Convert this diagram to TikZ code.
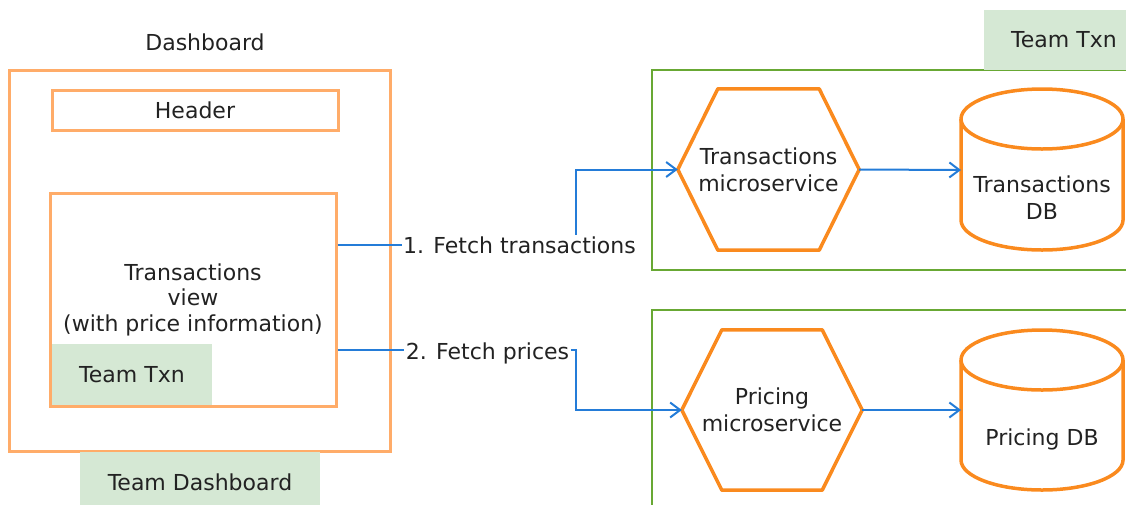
\documentclass[tikz,border=0pt]{standalone}
\usepackage{fontspec}
\setmainfont{DejaVu Sans}
\usetikzlibrary{arrows.meta}
\definecolor{lorange}{RGB}{255,172,105}
\definecolor{sorange}{RGB}{250,138,30}
\definecolor{cgreen}{RGB}{104,168,52}
\definecolor{gfill}{RGB}{213,232,212}
\definecolor{cblue}{RGB}{36,124,216}
\definecolor{ink}{RGB}{34,34,34}
\begin{document}
\begin{tikzpicture}[x=1pt,y=1pt,
  every node/.style={font=\fontsize{22}{27}\selectfont, text=ink, align=center, inner sep=0pt},
  uibox/.style={draw=lorange, line width=3pt},
  teambox/.style={fill=gfill},
  container/.style={draw=cgreen, line width=2pt},
  hexa/.style={minimum width=181pt, minimum height=161pt},
  dbline/.style={draw=sorange, line width=3.5pt, line join=round},
  flow/.style={draw=cblue, line width=2pt, -{Straight Barb[length=10pt,width=15pt]}},
  flowlabel/.style={fill=white, inner sep=1.5pt, anchor=base}
]
\useasboundingbox (0,0) rectangle (1126,-504);
\clip (0,0) rectangle (1126,-504);

% Dashboard side
\node (dashl) at (205,-42) {Dashboard};
\node[uibox, minimum width=381pt, minimum height=381pt] (dash) at (199.5,-260.5) {};
\node[uibox, minimum width=286pt, minimum height=40pt] (hdr) at (195,-110) {Header};
\node[teambox, minimum width=160pt, minimum height=62pt] (ttx1) at (132,-375) {Team Txn};
\node[uibox, minimum width=286pt, minimum height=213pt, font=\fontsize{22}{25.5}\selectfont] (tv) at (193,-299.5) {Transactions\\view\\(with price information)};
\node[teambox, minimum width=240pt, minimum height=60pt] (tdash) at (200,-482) {Team Dashboard};

% Team Txn containers
\node[container, minimum width=490pt, minimum height=200pt] (c1) at (897,-170) {};
\node[container, minimum width=490pt, minimum height=220pt] (c2) at (897,-420) {};
\node[teambox, minimum width=160pt, minimum height=60pt] (ttx2) at (1064,-40) {Team Txn};

% Microservices
\node[hexa] (hex1) at (768.5,-169.5) {Transactions\\microservice};
\draw[dbline] (hex1.west) -- ([xshift=40pt]hex1.north west) -- ([xshift=-40pt]hex1.north east) -- (hex1.east) -- ([xshift=-40pt]hex1.south east) -- ([xshift=40pt]hex1.south west) -- cycle;
\node[hexa, minimum width=180pt, minimum height=160pt] (hex2) at (772,-410) {Pricing\\microservice};
\draw[dbline] (hex2.west) -- ([xshift=40pt]hex2.north west) -- ([xshift=-40pt]hex2.north east) -- (hex2.east) -- ([xshift=-40pt]hex2.south east) -- ([xshift=40pt]hex2.south west) -- cycle;

% Databases
\draw[dbline] (961,-119) -- (961,-220) arc[start angle=180,end angle=360,x radius=81pt,y radius=30pt] -- (1123,-119);
\draw[dbline] (1042,-119) ellipse[x radius=81pt, y radius=30pt];
\node (tdb) at (1042,-198) {Transactions\\DB};
\coordinate (tdbin) at (961,-170);

\draw[dbline] (961,-360) -- (961,-460) arc[start angle=180,end angle=360,x radius=81pt,y radius=30pt] -- (1123,-360);
\draw[dbline] (1042,-360) ellipse[x radius=81pt, y radius=30pt];
\node (pdb) at (1042,-439) {Pricing DB};
\coordinate (pdbin) at (961,-410);

% Connectors
\coordinate (k1) at (576,-245);
\coordinate (k2) at (576,-350);
\draw[flow] (tv.east |- k1) -- (k1) |- (hex1.west);
\draw[flow] (tv.east |- k2) -- (k2) |- (hex2.west);
\node[flowlabel] (l1) at (519.5,-253) {1. Fetch transactions};
\node[flowlabel] (l2) at (487.5,-359) {2. Fetch prices};
\draw[flow] (hex1.east) -- (tdbin);
\draw[flow] (hex2.east) -- (pdbin);
\end{tikzpicture}
\end{document}
